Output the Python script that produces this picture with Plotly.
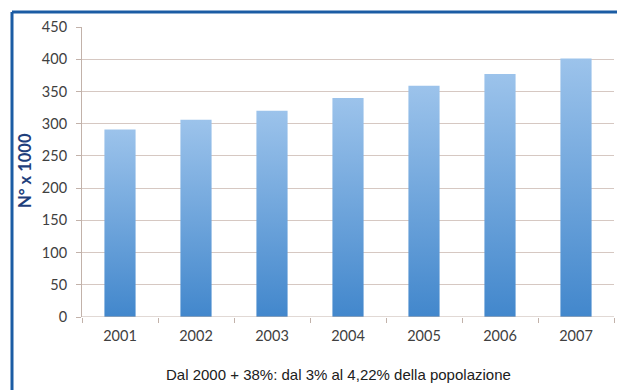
import plotly.graph_objects as go

# Data: residents (thousands) per year
years = ["2001", "2002", "2003", "2004", "2005", "2006", "2007"]
values = [291, 306, 320, 340, 359, 377, 401]
y_ticks = [0, 50, 100, 150, 200, 250, 300, 350, 400, 450]

W, H = 617, 390
L, R, T, B = 82, 3, 27, 73
pw, ph = W - L - R, H - T - B

bar_w = 0.41
grid_col = "#d6c8c2"
axis_col = "#c2b2aa"

fig = go.Figure()

# Bars drawn as filled shapes so they can carry a vertical gradient
for i, (yr, v) in enumerate(zip(years, values)):
    x0, x1 = i - bar_w / 2, i + bar_w / 2
    fig.add_trace(go.Scatter(
        x=[x0, x1, x1, x0, x0],
        y=[0, 0, v, v, 0],
        mode="lines",
        fill="toself",
        fillgradient=dict(
            type="vertical",
            colorscale=[[0, "#4287cc"], [1, "#9cc3eb"]],
        ),
        line=dict(width=0, color="rgba(0,0,0,0)"),
        hoverinfo="skip",
        showlegend=False,
        name=yr,
    ))

fig.update_layout(
    width=W, height=H,
    margin=dict(l=L, r=R, t=T, b=B),
    paper_bgcolor="white",
    plot_bgcolor="white",
    font=dict(family="Lato", color="#404040", size=14.5),
    xaxis=dict(
        range=[-0.5, len(years) - 0.5],
        tickmode="array",
        tickvals=list(range(len(years))),
        ticktext=years,
        ticks="",
        showgrid=False,
        zeroline=False,
        showline=False,
        ticklabelstandoff=8,
        minor=dict(
            tickmode="array",
            tickvals=[k - 0.5 for k in range(len(years) + 1)],
            ticks="outside",
            ticklen=5,
            tickcolor=axis_col,
            showgrid=False,
        ),
    ),
    yaxis=dict(
        range=[0, 450],
        tickmode="array",
        tickvals=y_ticks,
        ticks="outside",
        ticklen=5,
        tickcolor=axis_col,
        showgrid=True,
        gridcolor=grid_col,
        gridwidth=1,
        zeroline=False,
        showline=True,
        linecolor=axis_col,
        linewidth=1,
        ticklabelstandoff=6,
    ),
    shapes=[
        # baseline
        dict(type="line", xref="paper", yref="y", x0=0, x1=1, y0=0, y1=0,
             line=dict(color=axis_col, width=1)),
        # frame around the chart (left and top edges)
        dict(type="line", xref="paper", yref="paper",
             x0=(12 - L) / pw, x1=(12 - L) / pw,
             y0=1 + (T - 12) / ph, y1=-(H - T) / ph - 0.05,
             line=dict(color="#1b5ca4", width=3)),
        dict(type="line", xref="paper", yref="paper",
             x0=(12 - L) / pw, x1=1.05,
             y0=1 + (T - 12) / ph, y1=1 + (T - 12) / ph,
             line=dict(color="#1b5ca4", width=3)),
    ],
    annotations=[
        dict(text="<b>N° x 1000</b>", textangle=-90,
             xref="paper", yref="paper",
             x=(25 - L) / pw, y=(H - B - 171) / ph,
             xanchor="center", yanchor="middle",
             showarrow=False,
             font=dict(family="Lato", size=16.5, color="#1f3f7c")),
        dict(text="Dal 2000 + 38%: dal 3% al 4,22% della popolazione",
             xref="paper", yref="paper",
             x=(338 - L) / pw, y=-(374 - (H - B)) / ph,
             xanchor="center", yanchor="middle",
             showarrow=False,
             font=dict(family="Liberation Sans", size=15, color="#202020")),
    ],
)

fig.write_html("out.html")
